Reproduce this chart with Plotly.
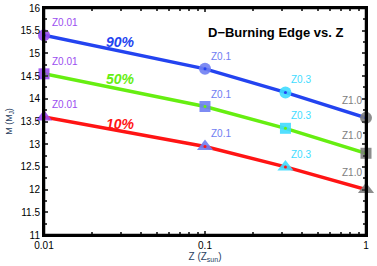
import plotly.graph_objects as go
import math

Z = [0.01, 0.1, 0.316, 1.0]
z_labels = ["Z0.01", "Z0.1", "Z0.3", "Z1.0"]
m90 = [15.40, 14.66, 14.14, 13.58]
m50 = [14.55, 13.83, 13.35, 12.80]
m10 = [13.60, 12.95, 12.50, 12.00]

series = [("90%", m90, "#2343f0", "circle", 12),
          ("50%", m50, "#66ee11", "square", 11),
          ("10%", m10, "#ff1414", "triangle-up", 14)]
marker_colors = ["#9b4ef0", "#6f7ef2", "#3fdcff", "#808080"]

fig = go.Figure()
for name, vals, lc, sym, sz in series:
    fig.add_trace(go.Scatter(x=Z, y=vals, mode="lines", line=dict(color=lc, width=3.5),
                             showlegend=False, hoverinfo="skip", cliponaxis=False))
    fig.add_trace(go.Scatter(x=Z, y=vals, mode="markers", cliponaxis=False, showlegend=False,
                             marker=dict(symbol=sym, size=sz, color=marker_colors,
                                         opacity=0.9, line=dict(width=0))))
    fig.add_trace(go.Scatter(x=Z, y=vals, mode="markers", cliponaxis=False, showlegend=False,
                             marker=dict(symbol="circle", size=3, color=lc)))
    for i, (zv, v) in enumerate(zip(Z, vals)):
        if i < 3:
            fig.add_annotation(x=math.log10(zv), y=v, text=z_labels[i], showarrow=False,
                               xanchor="left", yanchor="bottom", xshift=4 if i else 6, yshift=5,
                               font=dict(size=10, color=marker_colors[i], family="Liberation Sans"))
        else:
            fig.add_annotation(x=math.log10(zv), y=v, text=z_labels[i], showarrow=False,
                               xanchor="right", yanchor="bottom", xshift=-2, yshift=10,
                               font=dict(size=10, color=marker_colors[i], family="Liberation Sans"))

pct_y = [15.25, 14.44, 13.45]
for (name, vals, lc, sym, sz), py in zip(series, pct_y):
    fig.add_annotation(x=math.log10(0.0297), y=py, text="<b><i>" + name + "</i></b>",
                       showarrow=False, font=dict(size=14, color=lc, family="Liberation Sans"))

fig.add_annotation(x=math.log10(0.273), y=15.47, text="<b>D\u2212Burning Edge vs. Z</b>",
                   showarrow=False, font=dict(size=13, color="black", family="Liberation Sans"))

fig.add_shape(type="rect", xref="paper", yref="paper", x0=0, y0=0, x1=1, y1=1,
              line=dict(color="black", width=2.5), layer="above")

fig.update_xaxes(type="log", range=[-2, 0], tickvals=[0.01, 0.1, 1], ticktext=["0.01", "0.1", "1"],
                 ticks="inside", ticklen=4, tickwidth=1.5, mirror="ticks", showline=True,
                 linewidth=2, linecolor="black", showgrid=False, zeroline=False, automargin=False,
                 minor=dict(ticks="inside", ticklen=3, tickwidth=1.5, showgrid=False,
                            tickvals=[0.02, 0.03, 0.04, 0.05, 0.06, 0.07, 0.08, 0.09,
                                      0.2, 0.3, 0.4, 0.5, 0.6, 0.7, 0.8, 0.9]),
                 title=dict(text="Z (Z<sub>sun</sub>)", font=dict(size=10, family="Liberation Sans"), standoff=2),
                 tickfont=dict(size=10, family="Liberation Sans", color="black"))
fig.update_yaxes(range=[11, 16], dtick=0.5, ticks="inside", ticklen=4, tickwidth=1.5, mirror="ticks",
                 showline=True, linewidth=2, linecolor="black", showgrid=False, zeroline=False,
                 automargin=False,
                 minor=dict(ticks="inside", ticklen=3, tickwidth=1.5, dtick=0.25, showgrid=False),
                 title=dict(text="M (M<sub>J</sub>)", font=dict(size=9, family="Liberation Sans"), standoff=6),
                 tickfont=dict(size=10, family="Liberation Sans", color="black"))

fig.update_layout(width=377, height=266, margin=dict(l=44, r=11, t=8, b=31),
                  plot_bgcolor="white", paper_bgcolor="white")
fig.write_html("out.html", config={"displayModeBar": False},
               post_script="document.body.style.margin='0';document.body.style.overflow='hidden';")
